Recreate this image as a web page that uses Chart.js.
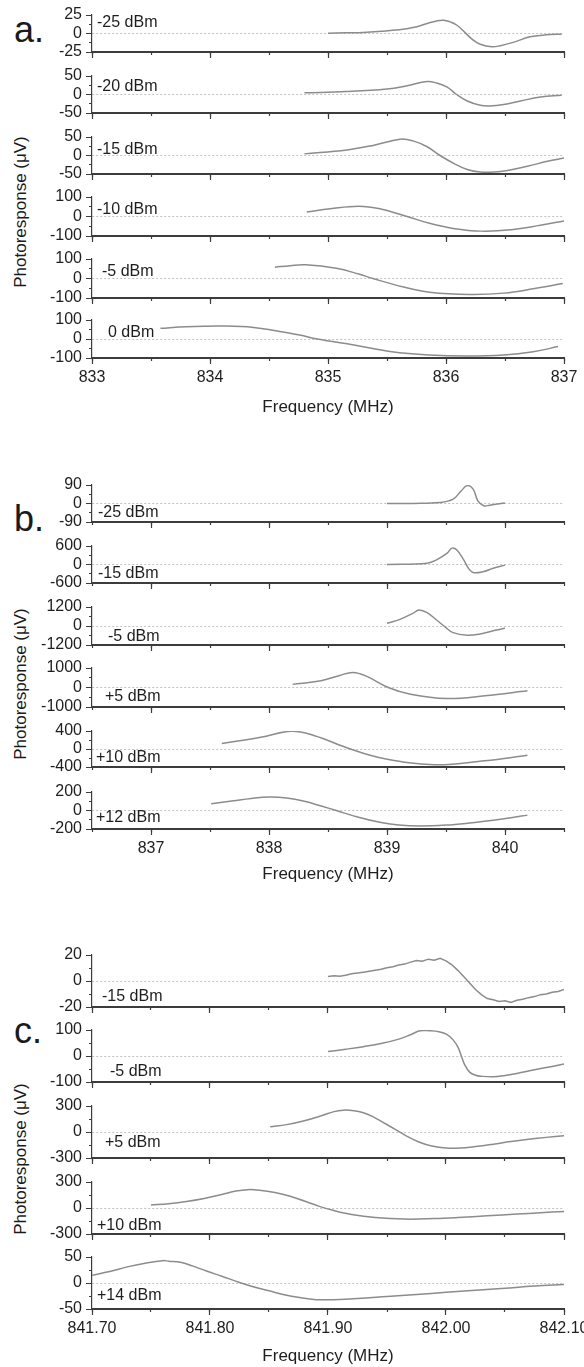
<!DOCTYPE html>
<html>
<head>
<meta charset="utf-8">
<title>Photoresponse vs frequency</title>
<script src="https://cdn.jsdelivr.net/npm/chart.js@4.4.1/dist/chart.umd.min.js"></script>
<style>
  body { margin: 0; background: #fff; }
  #page { position: relative; width: 584px; height: 1367px; overflow: hidden; background: #fff;
          font-family: "Liberation Sans", Arial, sans-serif; color: #1a1a1a; }
  #page canvas { position: absolute; left: 0; }
  .tag { position: absolute; left: 14px; font-size: 36px; line-height: 1; }
  .ytitle { position: absolute; left: 21px; font-size: 17px; white-space: nowrap;
            transform: translate(-50%, -50%) rotate(-90deg); }
</style>
</head>
<body>
<div id="page">
  <div class="tag" style="top:12px">a.</div>
  <div class="tag" style="top:501px">b.</div>
  <div class="tag" style="top:1013px">c.</div>
  <div class="ytitle" style="top:212px">Photoresponse (&mu;V)</div>
  <div class="ytitle" style="top:684px">Photoresponse (&mu;V)</div>
  <div class="ytitle" style="top:1159px">Photoresponse (&mu;V)</div>
</div>
<script>
// ---------- panel a : 833 - 837 MHz ----------
const aTicks = [833, 834, 835, 836, 837];
const aTickLabels = ['833', '834', '835', '836', '837'];
const aPowers = ['-25 dBm', '-20 dBm', '-15 dBm', '-10 dBm', '-5 dBm', '0 dBm'];
const aLimits = [25, 50, 50, 100, 100, 100];

const aFreqM25 = [835.00, 835.15, 835.30, 835.45, 835.60, 835.72, 835.84, 835.92, 835.98, 836.03, 836.09, 836.16, 836.22, 836.29, 836.39, 836.46, 836.57, 836.71, 836.85, 836.98];
const aRespM25 = [0.5, 1, 1.5, 3, 5, 8, 13.5, 17, 18, 16, 11.5, 1.5, -7.5, -14.5, -18, -16.5, -12, -4.5, -1.8, -0.9];
const aFreqM20 = [834.80, 835.16, 835.50, 835.67, 835.84, 835.92, 836.01, 836.09, 836.18, 836.29, 836.37, 836.49, 836.63, 836.80, 836.98];
const aRespM20 = [4.4, 7.9, 14.9, 23.7, 35, 31, 20, 0, -17.5, -29, -31, -27, -17.5, -7, -1.8];
const aFreqM15 = [834.80, 835.16, 835.39, 835.61, 835.72, 835.84, 835.95, 836.07, 836.18, 836.29, 836.41, 836.52, 836.69, 836.86, 837.00];
const aRespM15 = [4.4, 15, 28, 44, 39.5, 23.7, 0, -22, -37.7, -44.7, -44.7, -40.4, -29, -15.8, -7];
const aFreqM10 = [834.82, 835.02, 835.26, 835.44, 835.67, 835.86, 836.06, 836.30, 836.55, 836.80, 837.00];
const aRespM10 = [23, 40, 53, 40, 0, -35, -61, -75, -68, -45, -23];
const aFreqM5 = [834.55, 834.68, 834.81, 835.07, 835.26, 835.38, 835.64, 835.86, 836.20, 836.49, 836.74, 836.99];
const aRespM5 = [58, 66, 70, 52, 23, 0, -44, -70, -82, -75, -53, -26];
const aFreq0 = [833.58, 833.80, 834.14, 834.37, 834.57, 834.76, 834.91, 835.22, 835.54, 835.86, 836.17, 836.49, 836.74, 836.95];
const aResp0 = [56, 65, 68, 61, 42, 21, 0, -32, -67, -84, -89, -84, -67, -40];

// ---------- panel b : 836.5 - 840.5 MHz ----------
const bTicks = [837, 838, 839, 840];
const bTickLabels = ['837', '838', '839', '840'];
const bPowers = ['-25 dBm', '-15 dBm', '-5 dBm', '+5 dBm', '+10 dBm', '+12 dBm'];
const bLimits = [90, 600, 1200, 1000, 400, 200];

const bFreqM25 = [839.00, 839.22, 839.45, 839.56, 839.63, 839.68, 839.73, 839.77, 839.82, 839.87, 840.00];
const bRespM25 = [0, 0.5, 5, 21, 62, 87, 70, 13, -11, -8, 2];
const bFreqM15 = [839.00, 839.34, 839.42, 839.51, 839.55, 839.59, 839.65, 839.69, 839.73, 839.82, 839.90, 840.00];
const bRespM15 = [0, 43, 151, 368, 530, 476, 151, -119, -259, -227, -119, -20];
const bFreqM5 = [839.00, 839.11, 839.22, 839.27, 839.34, 839.42, 839.49, 839.56, 839.68, 839.79, 839.90, 840.00];
const bRespM5 = [168, 421, 800, 1010, 842, 379, -42, -421, -589, -505, -295, -147];
const bFreqP5 = [838.20, 838.44, 838.60, 838.71, 838.82, 839.01, 839.20, 839.50, 839.83, 840.19];
const bRespP5 = [160, 342, 620, 770, 598, 0, -342, -564, -427, -171];
const bFreqP10 = [837.60, 837.93, 838.19, 838.38, 838.69, 838.95, 839.40, 839.83, 840.19];
const bRespP10 = [120, 260, 395, 300, 0, -200, -350, -259, -141];
const bFreqP12 = [837.51, 837.70, 837.85, 838.00, 838.15, 838.30, 838.45, 838.57, 838.75, 838.95, 839.10, 839.28, 839.50, 839.70, 839.90, 840.05, 840.19];
const bRespP12 = [72, 105, 130, 145, 135, 100, 45, 0, -70, -130, -158, -168, -158, -135, -105, -78, -50];

// ---------- panel c : 841.70 - 842.10 MHz ----------
const cTicks = [841.70, 841.80, 841.90, 842.00, 842.10];
const cTickLabels = ['841.70', '841.80', '841.90', '842.00', '842.10'];
const cPowers = ['-15 dBm', '-5 dBm', '+5 dBm', '+10 dBm', '+14 dBm'];
const cLimits = [20, 100, 300, 300, 50];

const cFreqM15 = [841.900, 841.905, 841.910, 841.915, 841.920, 841.925, 841.930, 841.935, 841.940, 841.945, 841.950, 841.955, 841.960, 841.965, 841.970, 841.975, 841.980, 841.985, 841.990, 841.995, 842.000, 842.005, 842.010, 842.015, 842.020, 842.025, 842.030, 842.035, 842.040, 842.045, 842.050, 842.055, 842.060, 842.065, 842.070, 842.075, 842.080, 842.085, 842.090, 842.095, 842.100];
const cRespM15 = [3.5, 4, 3.6, 4.5, 5.5, 6.2, 6.8, 7.5, 8.3, 9.0, 10.2, 11.0, 12.3, 13.0, 14.5, 15.8, 15.2, 16.8, 15.9, 17.5, 15.5, 12.5, 8.2, 3.5, -1.5, -6.5, -10.5, -13.5, -14.5, -15.8, -15.2, -16.5, -14.8, -14.0, -12.8, -12.0, -10.5, -10.0, -8.6, -8.0, -6.5];
const cFreqM5 = [841.900, 841.915, 841.930, 841.945, 841.960, 841.970, 841.978, 841.986, 841.994, 842.001, 842.006, 842.010, 842.013, 842.016, 842.020, 842.025, 842.030, 842.040, 842.050, 842.060, 842.075, 842.090, 842.100];
const cRespM5 = [17, 26, 36, 48, 65, 82, 97, 97, 93, 82, 62, 35, 0, -35, -62, -74, -78, -80, -75, -67, -53, -40, -31];
const cFreqP5 = [841.851, 841.865, 841.880, 841.895, 841.905, 841.913, 841.922, 841.930, 841.938, 841.947, 841.957, 841.967, 841.977, 841.988, 842.000, 842.012, 842.025, 842.040, 842.055, 842.070, 842.085, 842.100];
const cRespP5 = [60, 85, 130, 190, 235, 252, 246, 222, 178, 108, 30, -50, -115, -162, -186, -185, -167, -140, -110, -85, -62, -42];
const cFreqP10 = [841.750, 841.765, 841.780, 841.795, 841.810, 841.822, 841.832, 841.842, 841.855, 841.868, 841.880, 841.892, 841.905, 841.920, 841.940, 841.965, 841.990, 842.010, 842.035, 842.060, 842.080, 842.100];
const cRespP10 = [35, 50, 75, 110, 155, 195, 212, 205, 178, 135, 80, 22, -30, -75, -110, -128, -122, -110, -90, -70, -55, -40];
const cFreqP14 = [841.700, 841.715, 841.730, 841.745, 841.760, 841.765, 841.775, 841.785, 841.797, 841.810, 841.825, 841.838, 841.850, 841.862, 841.876, 841.890, 841.905, 841.925, 841.950, 841.975, 842.000, 842.025, 842.050, 842.075, 842.100];
const cRespP14 = [15, 22, 31, 38, 43, 42, 40, 33, 23, 13, 1, -8, -15, -22, -28, -32, -32, -30, -26, -22, -18, -14, -10, -6, -3];

// ---------- layout (pixel frames of each strip) ----------
const panels = [
  { range: [833, 837], minor: 0.5, ticks: aTicks, tickLabels: aTickLabels, powers: aPowers, limits: aLimits,
    series: [[aFreqM25, aRespM25], [aFreqM20, aRespM20], [aFreqM15, aRespM15], [aFreqM10, aRespM10], [aFreqM5, aRespM5], [aFreq0, aResp0]],
    tops: [15, 76, 137, 197, 259, 320], bottoms: [52, 113, 174, 236, 298, 358],
    labelX: [97, 97, 97, 97, 102, 108], labelDy: [8, 11, 13, 13, 13, 13], footer: 64, jagged: -1 },
  { range: [836.5, 840.5], minor: 0.5, ticks: bTicks, tickLabels: bTickLabels, powers: bPowers, limits: bLimits,
    series: [[bFreqM25, bRespM25], [bFreqM15, bRespM15], [bFreqM5, bRespM5], [bFreqP5, bRespP5], [bFreqP10, bRespP10], [bFreqP12, bRespP12]],
    tops: [485, 546, 607, 668, 731, 792], bottoms: [522, 583, 645, 707, 767, 829],
    labelX: [98, 98, 108, 105, 96, 96], labelDy: [28, 28, 30, 29, 27, 26], footer: 60, jagged: -1 },
  { range: [841.70, 842.10], minor: 0.05, ticks: cTicks, tickLabels: cTickLabels, powers: cPowers, limits: cLimits,
    series: [[cFreqM15, cRespM15], [cFreqM5, cRespM5], [cFreqP5, cRespP5], [cFreqP10, cRespP10], [cFreqP14, cRespP14]],
    tops: [955, 1030, 1106, 1182, 1257], bottoms: [1007, 1082, 1158, 1234, 1309],
    labelX: [102, 110, 105, 97, 97], labelDy: [42, 42, 37, 44, 39], footer: 62, jagged: 0 }
];

const AXIS = '#3c3c3c';
const TEXT = '#1e1e1e';
const CURVE = '#8c8c8c';
const FONT = '"Liberation Sans", Arial, sans-serif';
const PAD_TOP = 12;

Chart.defaults.font.family = FONT;

const powerLabel = {
  id: 'powerLabel',
  afterDraw(chart, args, opts) {
    const ctx = chart.ctx;
    ctx.save();
    ctx.font = '16px ' + FONT;
    ctx.fillStyle = TEXT;
    ctx.textBaseline = 'middle';
    ctx.fillText(opts.text, opts.x, chart.chartArea.top + opts.dy);
    ctx.restore();
  }
};

function steps(lo, hi, step) {
  const out = [];
  const n = Math.round((hi - lo) / step);
  for (let i = 0; i <= n; i++) out.push(+(lo + i * step).toFixed(4));
  return out;
}

function makeStrip(panel, i) {
  const page = document.getElementById('page');
  const last = i === panel.series.length - 1;
  const plotH = panel.bottoms[i] - panel.tops[i];
  const below = last ? panel.footer : 10;
  const h = PAD_TOP + plotH + below;
  const lim = panel.limits[i];
  const [freq, resp] = panel.series[i];

  const canvas = document.createElement('canvas');
  canvas.width = 584;
  canvas.height = h;
  canvas.style.width = '584px';
  canvas.style.height = h + 'px';
  canvas.style.top = (panel.tops[i] - PAD_TOP) + 'px';
  page.appendChild(canvas);

  const xMinor = steps(panel.range[0], panel.range[1], panel.minor);

  new Chart(canvas, {
    type: 'line',
    data: {
      datasets: [{
        data: freq.map((f, k) => ({ x: f, y: resp[k] })),
        xAxisID: 'x',
        yAxisID: 'y',
        borderColor: CURVE,
        borderWidth: 1.5,
        pointRadius: 0,
        fill: false,
        // noisy trace stays straight-segmented, the others are smoothed
        tension: i === panel.jagged ? 0 : 0.4
      }]
    },
    options: {
      responsive: false,
      animation: false,
      devicePixelRatio: 1,
      events: [],
      layout: { padding: { left: 0, right: 20, top: PAD_TOP, bottom: 0 } },
      plugins: {
        legend: { display: false },
        tooltip: { enabled: false },
        powerLabel: { text: panel.powers[i], x: panel.labelX[i], dy: panel.labelDy[i] }
      },
      scales: {
        x: {
          type: 'linear', position: 'bottom', weight: 1,
          min: panel.range[0], max: panel.range[1],
          afterBuildTicks: s => { s.ticks = panel.ticks.map(v => ({ value: v })); },
          afterFit: s => { s.height = below; s.paddingLeft = 0; s.paddingRight = 0; },
          ticks: {
            display: last, autoSkip: false, maxRotation: 0, padding: 4,
            color: TEXT, font: { size: 16 },
            callback: (v, k) => panel.tickLabels[k]
          },
          grid: { drawOnChartArea: false, tickLength: 6, tickWidth: 1.2, tickColor: AXIS },
          border: { color: AXIS, width: 2 },
          title: {
            display: last, text: 'Frequency (MHz)', color: TEXT,
            font: { size: 17 }, padding: { top: 0, bottom: 4 }
          }
        },
        xm: {
          type: 'linear', position: 'bottom', weight: 0,
          min: panel.range[0], max: panel.range[1],
          afterBuildTicks: s => { s.ticks = xMinor.map(v => ({ value: v })); },
          afterFit: s => { s.height = 0; s.paddingLeft = 0; s.paddingRight = 0; },
          ticks: { display: false },
          grid: { drawOnChartArea: false, tickLength: 3, tickWidth: 1.2, tickColor: AXIS },
          border: { display: false }
        },
        y: {
          type: 'linear', position: 'left', weight: 1,
          min: -lim, max: lim,
          afterBuildTicks: s => { s.ticks = [-lim, 0, lim].map(v => ({ value: v })); },
          afterFit: s => { s.width = 92; s.paddingTop = 0; s.paddingBottom = 0; },
          ticks: {
            autoSkip: false, padding: 4, color: TEXT, font: { size: 16 },
            callback: v => String(v)
          },
          grid: {
            color: c => (c.tick && c.tick.value === 0 ? '#c2c2c2' : 'rgba(0,0,0,0)'),
            lineWidth: 1, tickLength: 6, tickWidth: 1, tickColor: AXIS
          },
          border: { color: AXIS, width: 1.2, dash: [2, 2] }
        },
        ym: {
          type: 'linear', position: 'left', weight: 0,
          min: -lim, max: lim,
          afterBuildTicks: s => { s.ticks = [-lim, -lim / 2, 0, lim / 2, lim].map(v => ({ value: v })); },
          afterFit: s => { s.width = 0; s.paddingTop = 0; s.paddingBottom = 0; },
          ticks: { display: false },
          grid: { drawOnChartArea: false, tickLength: 3, tickWidth: 1, tickColor: AXIS },
          border: { display: false }
        }
      }
    },
    plugins: [powerLabel]
  });
}

panels.forEach(panel => {
  panel.series.forEach((s, i) => makeStrip(panel, i));
});
</script>
</body>
</html>
